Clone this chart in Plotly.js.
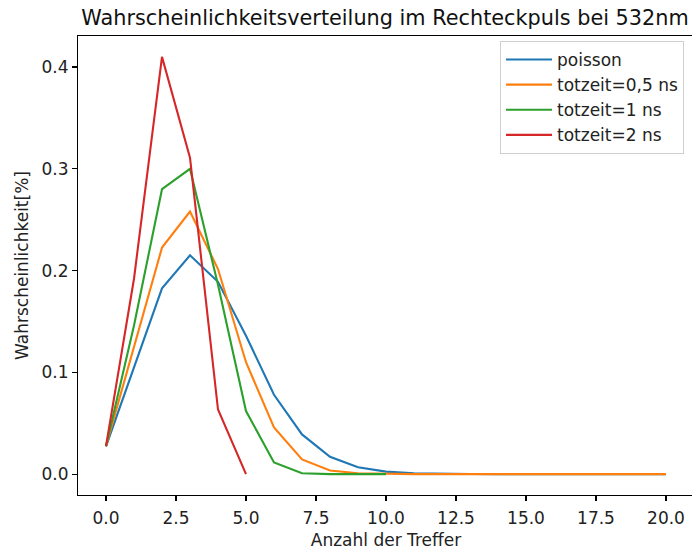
<!DOCTYPE html>
<html>
<head>
<meta charset="utf-8">
<script src="https://cdn.plot.ly/plotly-3.0.1.min.js"></script>
<style>
html, body { margin: 0; padding: 0; overflow: hidden; background: #fff; }
#chart { width: 696px; height: 550px; }
</style>
</head>
<body>
<div id="chart"></div>
<script>
const xPoisson = [0,1,2,3,4,5,6,7,8,9,10,11,12,13,14,15,16,17,18,19,20];
const poisson = [0.0273,0.104,0.1825,0.215,0.189,0.136,0.078,0.039,0.017,0.0068,0.0025,0.0009,0.0003,0.0001,0,0,0,0,0,0,0];

const xTot05 = [0,1,2,3,4,5,6,7,8,9,10,11,12,13,14,15,16,17,18,19,20];
const tot05 = [0.0275,0.124,0.2226,0.258,0.2015,0.110,0.0458,0.0144,0.0035,0.0008,0.0002,0,0,0,0,0,0,0,0,0,0];

const xTot1 = [0,1,2,3,4,5,6,7,8,9,10];
const tot1 = [0.0275,0.146,0.280,0.300,0.186,0.062,0.0115,0.0008,0,0,0];

const xTot2 = [0,1,2,3,4,5];
const tot2 = [0.0275,0.192,0.410,0.311,0.0635,0];

const names = ['poisson','totzeit=0,5 ns','totzeit=1 ns','totzeit=2 ns'];
const colors = ['#1f77b4','#ff7f0e','#2ca02c','#d62728'];
const xTicks = [0,2.5,5,7.5,10,12.5,15,17.5,20];
const yTicks = [0,0.1,0.2,0.3,0.4];

const xs = [xPoisson, xTot05, xTot1, xTot2];
const ys = [poisson, tot05, tot1, tot2];

const traces = ys.map((y, i) => ({
  x: xs[i], y: y, type: 'scatter', mode: 'lines', name: names[i],
  legendgroup: 'g' + i,
  line: {color: colors[i], width: 2.1}
}));

const font = {family: 'DejaVu Sans', size: 17, color: '#222'};

const layout = {
  width: 696, height: 550,
  margin: {l: 78, r: 2, t: 36, b: 55},
  paper_bgcolor: '#fff', plot_bgcolor: '#fff',
  font: font,
  showlegend: true,
  title: {text: 'Wahrscheinlichkeitsverteilung im Rechteckpuls bei 532nm',
          font: {family: 'DejaVu Sans', size: 20.8, color: '#111'},
          x: 385/696, xanchor: 'center', xref: 'container', y: 1 - 18/550, yanchor: 'middle', yref: 'container'},
  xaxis: {
    range: [-1, 21], tickvals: xTicks, ticktext: xTicks.map(v => v.toFixed(1)),
    showgrid: false, zeroline: false, showline: true, linecolor: '#000', linewidth: 1.1,
    mirror: true, ticks: 'outside', ticklen: 5, tickwidth: 1.1, tickcolor: '#000',
    tickfont: font, ticklabelstandoff: 2,
    title: {text: 'Anzahl der Treffer', font: font, standoff: 7}
  },
  yaxis: {
    range: [-0.0205, 0.4305], tickvals: yTicks, ticktext: yTicks.map(v => v.toFixed(1)),
    showgrid: false, zeroline: false, showline: true, linecolor: '#000', linewidth: 1.1,
    mirror: true, ticks: 'outside', ticklen: 5, tickwidth: 1.1, tickcolor: '#000',
    tickfont: font,
    title: {text: 'Wahrscheinlichkeit[%]', font: font, standoff: 8}
  },
  legend: {
    x: (500 - 78) / 616, y: (495 - 41) / 459, xanchor: 'left', yanchor: 'top',
    bgcolor: 'rgba(255,255,255,0.8)', bordercolor: '#d0d0d0', borderwidth: 1,
    font: {family: 'DejaVu Sans', size: 17, color: '#222'},
    tracegroupgap: 3, traceorder: 'normal', itemwidth: 46
  }
};

Plotly.newPlot('chart', traces, layout, {displayModeBar: false, staticPlot: true});
</script>
</body>
</html>
